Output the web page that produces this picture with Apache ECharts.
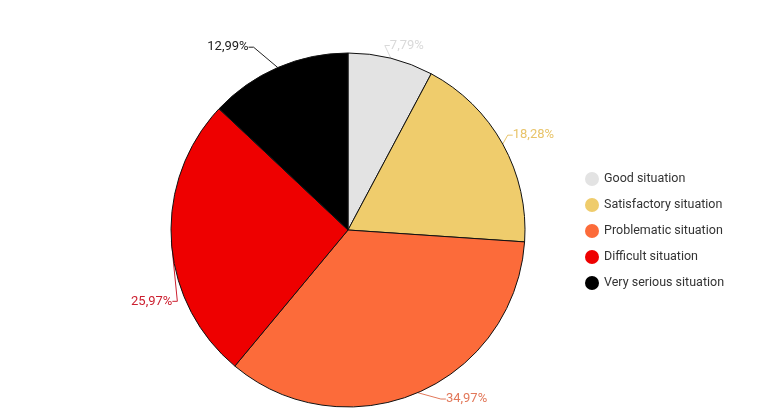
<!DOCTYPE html>
<html>
<head>
<meta charset="utf-8">
<script src="https://cdn.jsdelivr.net/npm/echarts@6/dist/echarts.min.js"></script>
<style>
  html, body { margin: 0; padding: 0; background: #fff; }
  #chart { width: 760px; height: 417px; }
</style>
</head>
<body>
<div id="chart"></div>
<script>
// data
const categories = ['Good situation', 'Satisfactory situation', 'Problematic situation', 'Difficult situation', 'Very serious situation'];
const shares = [7.79, 18.28, 34.97, 25.97, 12.99];
const sliceColors = ['#e3e3e3', '#efcc6c', '#fc6b3a', '#ee0000', '#000000'];
const labelColors = ['#d9d9d9', '#e8c46a', '#e2785a', '#cc2030', '#222222'];
// nudges for the outside labels, [dx, dy]
const labelShift = [[-14, -5], [-8, -5], [14, -1], [20, 60], [-15, -13]];

const chart = echarts.init(document.getElementById('chart'));

const pieData = categories.map((name, i) => ({
  name: name,
  value: shares[i],
  itemStyle: { color: sliceColors[i] },
  label: { color: labelColors[i] },
  labelLine: { lineStyle: { color: labelColors[i] } },
}));

// move label, then redraw its guide line to the new spot
function moveLabel(params) {
  const s = labelShift[params.dataIndex];
  const r = params.labelRect;
  const pts = params.labelLinePoints;
  const onRight = r.x + r.width / 2 > 348;
  const end = [
    (onRight ? r.x : r.x + r.width) + s[0],
    r.y + r.height / 2 + s[1],
  ];
  const mid = [end[0] + (onRight ? -5 : 5), end[1]];
  const out = { dx: s[0], dy: s[1] };
  if (pts) out.labelLinePoints = [pts[0], mid, end];
  return out;
}

chart.setOption({
  animation: false,
  legend: {
    orient: 'vertical',
    left: 580,
    top: 167,
    icon: 'circle',
    itemWidth: 14,
    itemHeight: 14,
    itemGap: 12,
    data: categories,
    itemStyle: { borderWidth: 0 },
    textStyle: {
      fontFamily: 'Roboto',
      fontSize: 12.5,
      color: '#333',
    },
  },
  series: [
    {
      type: 'pie',
      center: [348, 230],
      radius: 177,
      startAngle: 90,
      clockwise: true,
      data: pieData,
      itemStyle: {
        borderColor: '#111',
        borderWidth: 1,
      },
      label: {
        fontFamily: 'Roboto',
        fontSize: 13,
        formatter: (p) => p.value.toFixed(2).replace('.', ',') + '%',
      },
      labelLine: {
        length: 8,
        length2: 6,
      },
      labelLayout: moveLabel,
    },
  ],
});
</script>
</body>
</html>
